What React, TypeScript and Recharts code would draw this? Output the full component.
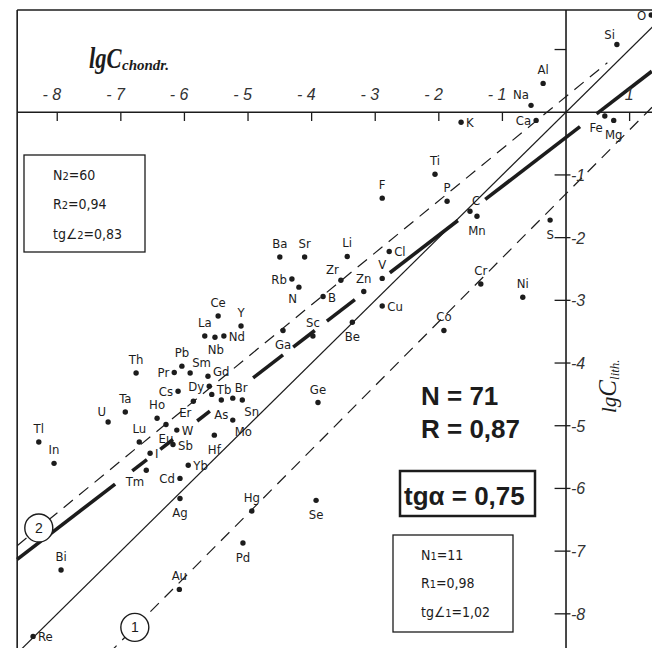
import React from 'react';
import { ScatterChart, Scatter, XAxis, YAxis, ReferenceLine } from 'recharts';

const W = 652;
const H = 648;

// data window (lgC chondr. across, lgC lith. up)
const X_MIN = -8.9;
const X_MAX = 1.352;
const Y_MIN = -8.545;
const Y_MAX = 1.79;
const FRAME_LEFT = -8.63;
const FRAME_TOP = 1.63;

const elements = [
  'O', 'Si', 'Al', 'Na', 'Ca', 'Fe', 'Mg', 'S', 'K',
  'Ti', 'F', 'P', 'C', 'Mn',
  'Ba', 'Sr', 'Li', 'Cl', 'Zr', 'Zn', 'V', 'Rb', 'N', 'B', 'Cu', 'Sc', 'Ga', 'Be', 'Cr', 'Ni', 'Co',
  'Ce', 'Y', 'La', 'Nb', 'Nd',
  'Pb', 'Pr', 'Sm', 'Gd', 'Dy', 'Tb', 'As', 'Br', 'Sn', 'Cs', 'Er', 'Ho', 'Eu', 'Lu', 'W', 'Mo', 'Hf', 'Sb', 'I', 'Tm', 'Yb', 'Cd',
  'Th', 'Ta', 'U', 'Tl', 'In', 'Ge',
  'Ag', 'Hg', 'Se', 'Pd', 'Bi', 'Au', 'Re',
];

const lgChondr = [
  1.34, 0.8, -0.36, -0.55, -0.47, 0.61, 0.75, -0.25, -1.65,
  -2.06, -2.89, -1.87, -1.51, -1.4,
  -4.5, -4.11, -3.44, -2.78, -3.54, -3.18, -2.89, -4.31, -4.2, -3.82, -2.89, -3.98, -4.45, -3.36, -1.34, -0.68, -1.92,
  -5.47, -5.11, -5.68, -5.52, -5.38,
  -6.04, -6.16, -5.91, -5.63, -5.61, -5.57, -5.42, -5.24, -5.09, -6.1, -5.86, -6.43, -6.29, -6.71, -6.12, -5.24, -5.53, -6.18, -6.54, -6.6, -5.94, -6.07,
  -6.76, -6.93, -7.2, -8.29, -8.05, -3.9,
  -6.07, -4.94, -3.93, -5.08, -7.94, -6.08, -8.38,
];

const lgLith = [
  1.55, 1.08, 0.46, 0.11, -0.13, -0.06, -0.13, -1.72, -0.16,
  -0.99, -1.37, -1.42, -1.58, -1.66,
  -2.31, -2.31, -2.3, -2.22, -2.68, -2.86, -2.65, -2.66, -2.79, -2.94, -3.09, -3.57, -3.48, -3.35, -2.74, -2.95, -3.48,
  -3.25, -3.41, -3.57, -3.59, -3.57,
  -4.05, -4.15, -4.16, -4.21, -4.37, -4.5, -4.59, -4.56, -4.59, -4.45, -4.61, -4.88, -4.98, -5.26, -5.07, -4.91, -5.15, -5.3, -5.44, -5.71, -5.63, -5.84,
  -4.16, -4.78, -4.94, -5.26, -5.6, -4.63,
  -6.16, -6.36, -6.19, -6.87, -7.3, -7.61, -8.36,
];

// where each element's name sits next to its dot
const labelSide: Record<string, string> = {
  O: 'left', Si: 'tl', Al: 'top', Na: 'tl', Ca: 'left', Fe: 'bl', Mg: 'bottom', S: 'bottom', K: 'right',
  Ti: 'top', F: 'top', P: 'top', C: 'tr', Mn: 'bottom',
  Ba: 'top', Sr: 'top', Li: 'top', Cl: 'right', Zr: 'tl', Zn: 'top', V: 'top', Rb: 'left', N: 'bl', B: 'right',
  Cu: 'right', Sc: 'top', Ga: 'bottom', Be: 'bottom', Cr: 'top', Ni: 'top', Co: 'top',
  Ce: 'top', Y: 'top', La: 'top', Nb: 'bottomTight', Nd: 'right',
  Pb: 'top', Pr: 'left', Sm: 'tr', Gd: 'rightHigh', Dy: 'left', Tb: 'rightHigh', As: 'bottom', Br: 'tr', Sn: 'br',
  Cs: 'left', Er: 'bl', Ho: 'top', Eu: 'bottom', Lu: 'top', W: 'right', Mo: 'br', Hf: 'bottom', Sb: 'right',
  I: 'right', Tm: 'bl', Yb: 'right', Cd: 'left',
  Th: 'top', Ta: 'top', U: 'tl', Tl: 'top', In: 'top', Ge: 'top',
  Ag: 'bottom', Hg: 'top', Se: 'bottom', Pd: 'bottom', Bi: 'top', Au: 'top', Re: 'right',
};

const xTickValues = [-8, -7, -6, -5, -4, -3, -2, -1, 1];
const xTickLabels = ['- 8', '- 7', '- 6', '- 5', '- 4', '- 3', '- 2', '- 1', '1'];
const yTickValues = [-8, -7, -6, -5, -4, -3, -2, -1, 1];
const yTickLabels = ['-8', '-7', '-6', '-5', '-4', '-3', '-2', '-1', ''];

// fitted lines: y = k x + b
const LINE_ALL = { k: 0.78, b: -0.4 }; // tg a = 0,75, drawn heavy and broken
const LINE_2 = { k: 0.83, b: 0.25 }; // dashed, group 2
const LINE_1 = { k: 1.02, b: -1.3 }; // dashed, group 1
const LINE_EQ = { k: 1, b: 0 }; // thin 1:1 line

// pieces of the heavy line (x ranges) between the labels it runs under
const heavyPieces = [
  [-8.63, -7.09], [-6.82, -6.59], [-6.38, -6.18], [-5.8, -5.6], [-4.92, -4.45],
  [-4.29, -3.95], [-3.76, -3.32], [-2.77, -1.7], [-1.27, 0.22], [0.48, 1.35],
];

const pointData = elements.map((name, i) => ({ x: lgChondr[i], y: lgLith[i], name }));
const xTickData = xTickValues.map((v, i) => ({ x: v, y: 0, label: xTickLabels[i] }));
const yTickData = yTickValues.map((v, i) => ({ x: 0, y: v, label: yTickLabels[i] }));
const circleData = [
  { x: -8.29, y: LINE_2.k * -8.29 + LINE_2.b, label: '2' },
  { x: -6.78, y: LINE_1.k * -6.78 + LINE_1.b, label: '1' },
];

const seg = (line: { k: number; b: number }, x1: number, x2: number) => [
  { x: x1, y: line.k * x1 + line.b },
  { x: x2, y: line.k * x2 + line.b },
];

const INK = '#1c1c1c';
const LABEL_FONT = "'Liberation Sans Narrow','DejaVu Sans Condensed','Liberation Sans',sans-serif";
const NUM_FONT = "'Liberation Sans','DejaVu Sans',sans-serif";
const SERIF = "'Liberation Serif','DejaVu Serif',serif";

const OFFSETS: Record<string, { dx: number; dy: number; anchor: 'start' | 'middle' | 'end' }> = {
  top: { dx: 0, dy: -9, anchor: 'middle' },
  bottom: { dx: 0, dy: 19, anchor: 'middle' },
  bottomTight: { dx: 1, dy: 17, anchor: 'middle' },
  left: { dx: -5, dy: 5, anchor: 'end' },
  right: { dx: 5, dy: 5, anchor: 'start' },
  rightHigh: { dx: 5, dy: 0, anchor: 'start' },
  tl: { dx: -2, dy: -6, anchor: 'end' },
  tr: { dx: 2, dy: -6, anchor: 'start' },
  bl: { dx: -2, dy: 16, anchor: 'end' },
  br: { dx: 2, dy: 16, anchor: 'start' },
};

const ElementDot = (props: any) => {
  const { cx, cy, payload } = props;
  const o = OFFSETS[labelSide[payload.name] || 'right'];
  return (
    <g>
      <circle cx={cx} cy={cy} r={2.7} fill={INK} />
      <text x={cx + o.dx} y={cy + o.dy} textAnchor={o.anchor} fontFamily={LABEL_FONT} fontSize={13} fill={INK}>
        {payload.name}
      </text>
    </g>
  );
};

const XTickText = (props: any) => (
  <text x={props.cx + 4} y={props.cy - 12} textAnchor="end" fontFamily={NUM_FONT} fontStyle="italic" fontSize={16} fill="#333">
    {props.payload.label}
  </text>
);

const YTickText = (props: any) => (
  <text x={props.cx + 5} y={props.cy + 6} textAnchor="start" fontFamily={NUM_FONT} fontStyle="italic" fontSize={16} fill="#333">
    {props.payload.label}
  </text>
);

const CircleMark = (props: any) => (
  <g>
    <circle cx={props.cx} cy={props.cy} r={14} fill="#fff" stroke={INK} strokeWidth={1.4} />
    <text x={props.cx} y={props.cy + 5} textAnchor="middle" fontFamily={NUM_FONT} fontSize={14} fill={INK}>
      {props.payload.label}
    </text>
  </g>
);

export default function App() {
  return (
    <div style={{ position: 'absolute', left: 0, top: 0, width: W, height: H, background: '#fff' }}>
      <ScatterChart width={W} height={H} margin={{ top: 0, right: 0, bottom: 0, left: 0 }}>
        <XAxis type="number" dataKey="x" domain={[X_MIN, X_MAX]} allowDataOverflow hide />
        <YAxis type="number" dataKey="y" domain={[Y_MIN, Y_MAX]} allowDataOverflow hide />

        {/* frame and the two axes crossing at 0,0 */}
        <ReferenceLine segment={[{ x: FRAME_LEFT, y: FRAME_TOP }, { x: X_MAX, y: FRAME_TOP }]} stroke={INK} strokeWidth={1.6} ifOverflow="hidden" />
        <ReferenceLine segment={[{ x: FRAME_LEFT, y: FRAME_TOP }, { x: FRAME_LEFT, y: Y_MIN }]} stroke={INK} strokeWidth={1.6} ifOverflow="hidden" />
        <ReferenceLine segment={[{ x: 0, y: FRAME_TOP }, { x: 0, y: Y_MIN }]} stroke={INK} strokeWidth={1.6} ifOverflow="hidden" />
        <ReferenceLine segment={[{ x: FRAME_LEFT, y: 0 }, { x: X_MAX, y: 0 }]} stroke={INK} strokeWidth={1.6} ifOverflow="hidden" />
        {xTickValues.map((v) => (
          <ReferenceLine key={'xt' + v} segment={[{ x: v, y: 0 }, { x: v, y: -0.14 }]} stroke={INK} strokeWidth={1.3} ifOverflow="hidden" />
        ))}
        {yTickValues.map((v) => (
          <ReferenceLine key={'yt' + v} segment={[{ x: -0.18, y: v }, { x: v > 0 ? 0 : 0.07, y: v }]} stroke={INK} strokeWidth={1.3} ifOverflow="hidden" />
        ))}

        {/* fitted lines */}
        <ReferenceLine segment={seg(LINE_EQ, -8.7, 1.4)} stroke={INK} strokeWidth={1.2} ifOverflow="hidden" />
        <ReferenceLine segment={seg(LINE_2, FRAME_LEFT, 0.65)} stroke={INK} strokeWidth={1.2} strokeDasharray="12 8" ifOverflow="hidden" />
        <ReferenceLine segment={seg(LINE_1, -7.2, X_MAX)} stroke={INK} strokeWidth={1.2} strokeDasharray="12 8" ifOverflow="hidden" />
        {heavyPieces.map(([a, b]) => (
          <ReferenceLine key={'h' + a} segment={seg(LINE_ALL, a, b)} stroke={INK} strokeWidth={3.6} ifOverflow="hidden" />
        ))}

        <Scatter data={xTickData} shape={XTickText} isAnimationActive={false} />
        <Scatter data={yTickData} shape={YTickText} isAnimationActive={false} />
        <Scatter data={circleData} shape={CircleMark} isAnimationActive={false} />
        <Scatter data={pointData} shape={ElementDot} isAnimationActive={false} />
      </ScatterChart>

      <svg width={W} height={H} style={{ position: 'absolute', left: 0, top: 0, pointerEvents: 'none' }}>
        <text transform="translate(89,68) scale(0.75,1)" fontFamily={SERIF} fontStyle="italic" fontWeight="bold" fontSize={30} fill={INK}>
          lgC
        </text>
        <text x={122} y={70} fontFamily={SERIF} fontStyle="italic" fontWeight="bold" fontSize={15} fill={INK}>
          chondr.
        </text>
        <text transform="translate(616,413) rotate(-90)" fontFamily={SERIF} fontStyle="italic" fill={INK}>
          <tspan fontSize={21}>lg</tspan>
          <tspan fontSize={25}>C</tspan>
          <tspan fontSize={13} dy={3}>lith.</tspan>
        </text>

        <rect x={24} y={155} width={121} height={97} fill="#fff" stroke={INK} strokeWidth={1.3} />
        <g fontFamily={LABEL_FONT} fontSize={14} fill={INK}>
          <text x={53} y={180}>N<tspan fontSize={11}>2</tspan>=60</text>
          <text x={53} y={209}>R<tspan fontSize={11}>2</tspan>=0,94</text>
          <text x={53} y={239}>tg∠<tspan fontSize={11}>2</tspan>=0,83</text>
        </g>

        <g fontFamily={NUM_FONT} fontWeight="bold" fontSize={26} fill={INK}>
          <text x={421} y={405}>N = 71</text>
          <text x={421} y={438}>R = 0,87</text>
        </g>
        <rect x={400} y={471} width={135} height={45} fill="#fff" stroke={INK} strokeWidth={2.5} />
        <text x={404} y={505} fontFamily={NUM_FONT} fontWeight="bold" fontSize={26} fill={INK}>tgα = 0,75</text>

        <rect x={393} y={535} width={120} height={97} fill="#fff" stroke={INK} strokeWidth={1.3} />
        <g fontFamily={LABEL_FONT} fontSize={14} fill={INK}>
          <text x={421} y={560}>N<tspan fontSize={11}>1</tspan>=11</text>
          <text x={421} y={588}>R<tspan fontSize={11}>1</tspan>=0,98</text>
          <text x={421} y={617}>tg∠<tspan fontSize={11}>1</tspan>=1,02</text>
        </g>
      </svg>
    </div>
  );
}
